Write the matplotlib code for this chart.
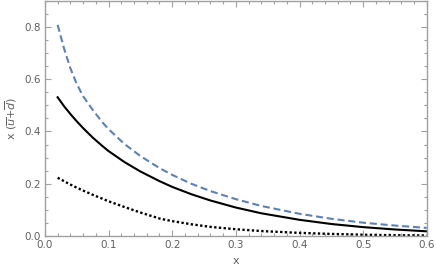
import matplotlib
matplotlib.use("Agg")
import matplotlib.pyplot as plt
import numpy as np
from matplotlib.ticker import MultipleLocator

# values
x = [0.02, 0.03, 0.04, 0.05, 0.06, 0.075, 0.09, 0.1, 0.125, 0.15, 0.18, 0.2, 0.23, 0.26,
     0.3, 0.34, 0.4, 0.45, 0.5, 0.55, 0.6]
dashed = [0.808, 0.718, 0.642, 0.582, 0.535, 0.483, 0.436, 0.409, 0.352, 0.306, 0.26, 0.234,
          0.2, 0.172, 0.141, 0.115, 0.085, 0.066, 0.051, 0.04, 0.031]
solid = [0.531, 0.497, 0.467, 0.439, 0.413, 0.377, 0.345, 0.325, 0.283, 0.247, 0.21, 0.188,
         0.16, 0.136, 0.109, 0.087, 0.062, 0.046, 0.034, 0.025, 0.018]
dotted = [0.223, 0.21, 0.197, 0.185, 0.174, 0.158, 0.143, 0.133, 0.111, 0.09, 0.067, 0.057,
          0.045, 0.035, 0.026, 0.019, 0.012, 0.008, 0.005, 0.003, 0.002]

frame_col = "#a0a0a0"
text_col = "#606060"

fig = plt.figure(figsize=(4.36, 2.78), dpi=100)
ax = fig.add_axes([0.103, 0.151, 0.876, 0.846])

ax.plot(x, dashed, c="#5e81b5", lw=1.5, dashes=(3.4, 1.8))
ax.plot(x, solid, c="black", lw=1.5)
ax.plot(x, dotted, c="black", lw=1.7, dashes=(1.0, 1.0))

ax.set_xlim(0, 0.6)
ax.set_ylim(0, 0.9)

ax.xaxis.set_major_locator(MultipleLocator(0.1))
ax.xaxis.set_minor_locator(MultipleLocator(0.02))
ax.yaxis.set_major_locator(MultipleLocator(0.2))
ax.yaxis.set_minor_locator(MultipleLocator(0.05))
ax.xaxis.set_major_formatter(lambda v, p: f"{v:.1f}")
ax.yaxis.set_major_formatter(lambda v, p: f"{v:.1f}")

for s in ax.spines.values():
    s.set_color(frame_col)
    s.set_linewidth(1.0)

ax.tick_params(which="both", direction="in", top=True, right=True, color=frame_col,
               labelsize=7.5, labelcolor=text_col, width=0.8)
ax.tick_params(which="major", length=4, pad=3)
ax.tick_params(which="minor", length=2)

ax.set_xlabel("x", fontsize=8, color=text_col, labelpad=4)
ax.set_ylabel(r"x ($\overline{u}$+$\overline{d}$)", fontsize=8, color=text_col, labelpad=4)

fig.savefig("out.png", dpi=100)
